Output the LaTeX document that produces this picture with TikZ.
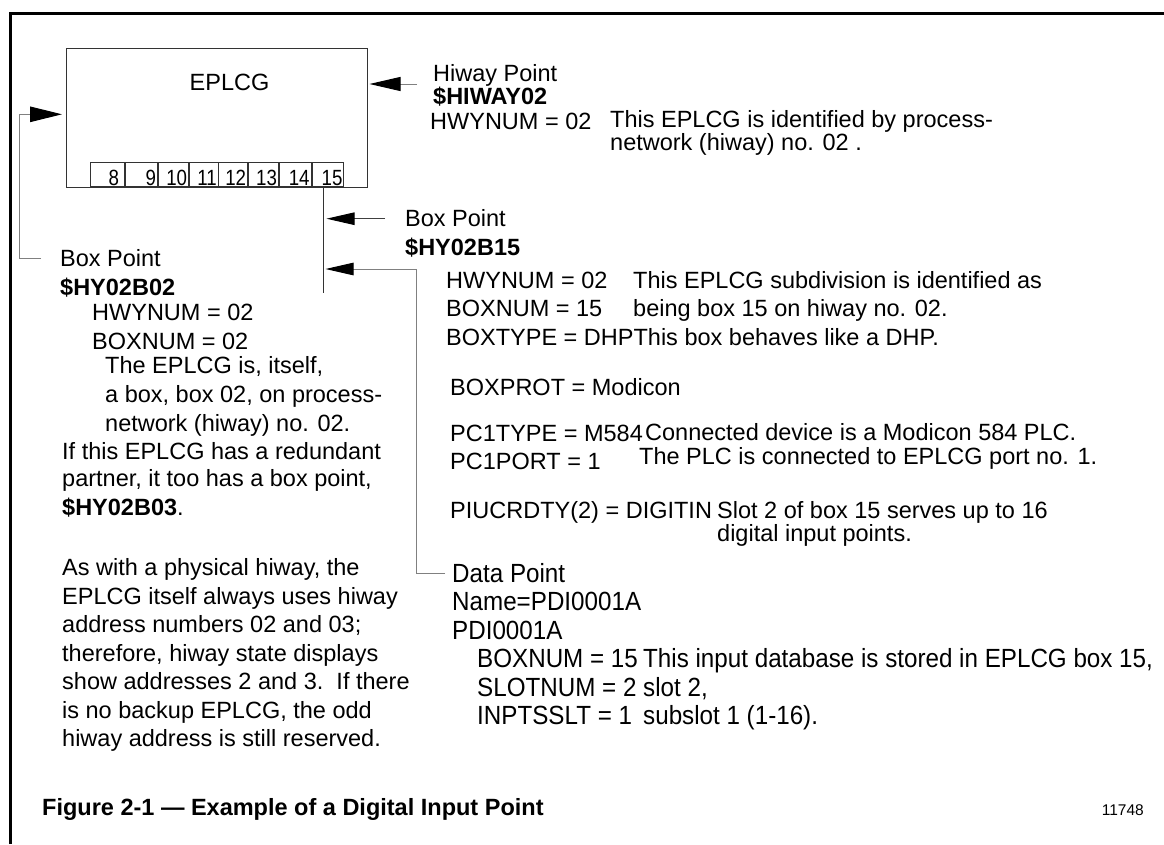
\documentclass[tikz,border=0pt]{standalone}
\usepackage{fontspec}
\setmainfont{Liberation Sans}
\newfontfamily\datafont[FakeStretch=0.92]{Liberation Sans}
\newfontfamily\slotfont[FakeStretch=0.85]{Liberation Sans}
\usetikzlibrary{arrows.meta}
\begin{document}
\begin{tikzpicture}[x=1pt,y=-1pt,
  txt/.style={anchor=base west, inner sep=0pt, font=\fontsize{23.5}{27}\selectfont},
  bld/.style={anchor=base west, inner sep=0pt, font=\fontsize{23.5}{27}\selectfont\bfseries},
  dat/.style={anchor=base west, inner sep=0pt, font=\fontsize{26.3}{29}\selectfont\datafont},
  num/.style={anchor=base east, inner sep=0pt, font=\fontsize{22}{24}\selectfont\slotfont},
  slotbox/.style={draw=black!80, line width=0.8pt, fill=white, minimum height=24pt, inner sep=0pt, anchor=south west},
  conn/.style={draw=black!50, line width=1pt},
  bigtip/.style={-{Triangle[length=32pt,width=15.5pt,color=black]}},
  midtip/.style={-{Triangle[length=28pt,width=12.5pt,color=black]}},
]
\useasboundingbox (0,0) rectangle (1164,844);
% frame
\draw[line width=3pt] (10.5,844) -- (10.5,13.5) -- (1164,13.5);

% EPLCG box
\node[draw=black!80, line width=0.8pt, minimum width=301pt, minimum height=139pt, inner sep=0pt] (eplcg) at (216.5,117.5) {};
\node[anchor=base, inner sep=0pt, font=\fontsize{23.5}{27}\selectfont] (eplcgl) at (229.5,90) {EPLCG};

% slots
\node[slotbox, minimum width=33.5pt] (s8)  at (90,187) {};
\node[slotbox, minimum width=32.3pt] (s9)  at (124.5,187) {};
\node[slotbox, minimum width=30.5pt] (s10) at (157.5,187) {};
\node[slotbox, minimum width=29.2pt] (s11) at (188.5,187) {};
\node[slotbox, minimum width=28.8pt] (s12) at (218.2,187) {};
\node[slotbox, minimum width=30.9pt] (s13) at (247.5,187) {};
\node[slotbox, minimum width=32.1pt] (s14) at (278.9,187) {};
\node[slotbox, minimum width=31.8pt] (s15) at (311.5,187) {};
\coordinate (nb) at (0,185);
\node[num] (n8)  at ([xshift=-5pt]s8.east |- nb) {8};
\node[num] (n9)  at ([xshift=-1.5pt]s9.east |- nb) {9};
\node[num] (n10) at ([xshift=-1.5pt]s10.east |- nb) {10};
\node[num] (n11) at ([xshift=-1.5pt]s11.east |- nb) {11};
\node[num] (n12) at ([xshift=-1.5pt]s12.east |- nb) {12};
\node[num] (n13) at ([xshift=-2pt]s13.east |- nb) {13};
\node[num] (n14) at ([xshift=-2pt]s14.east |- nb) {14};
\node[num] (n15) at ([xshift=-1.5pt]s15.east |- nb) {15};

% left box point connector
\coordinate (lb1) at (41,258.5);
\coordinate (lb2) at (19.5,258.5);
\coordinate (lb3) at (19.5,114.3);
\coordinate (lb4) at (62,114.3);
\draw[conn, bigtip] (lb1) -- (lb2) -- (lb3) -- (lb4);

% hiway connector
\coordinate (hw1) at (417,84);
\coordinate (hw2) at (369.5,84);
\draw[conn, -{Triangle[length=31pt,width=14pt,color=black]}] (hw1) -- (hw2);

% slot 15 vertical
\coordinate (v1) at (323.3,187);
\coordinate (v2) at (323.3,292.5);
\draw[black!80, line width=0.9pt] (v1) -- (v2);

% box point 15 arrow
\coordinate (b1) at (385,218.7);
\coordinate (b2) at (326.5,218.7);
\draw[draw=black!75, line width=1pt, midtip] (b1) -- (b2);

% data point connector
\coordinate (d1) at (445,573);
\coordinate (d2) at (416.5,573);
\coordinate (d3) at (416.5,269);
\coordinate (d4) at (325.5,269);
\draw[conn, midtip] (d1) -- (d2) -- (d3) -- (d4);

% Hiway point text
\node[txt] (hp1) at (433,81) {Hiway Point};
\node[bld] (hp2) at (433,104) {\$HIWAY02};
\node[txt] (hp3) at (430,129) {HWYNUM = 02};
\node[txt] (hp4) at (610,127) {This EPLCG is identified by process-};
\node[txt] (hp5) at (610,150) {network (hiway) no. 02 .};

% Box point 15 text
\node[txt] (bp1) at (405,226) {Box Point};
\node[bld] (bp2) at (405,255) {\$HY02B15};
\node[txt] (bp3) at (446,288) {HWYNUM = 02};
\node[txt] (bp4) at (633,288) {This EPLCG subdivision is identified as};
\node[txt] (bp5) at (446,316) {BOXNUM = 15};
\node[txt] (bp6) at (633,316) {being box 15 on hiway no. 02.};
\node[txt] (bp7) at (446,345) {BOXTYPE = DHPThis box behaves like a DHP.};
\node[txt] (bp8) at (450,395) {BOXPROT = Modicon};
\node[txt] (bp9) at (450,441) {PC1TYPE = M584};
\node[txt] (bp10) at (645,440) {Connected device is a Modicon 584 PLC.};
\node[txt] (bp11) at (450,469) {PC1PORT = 1};
\node[txt] (bp12) at (639,464) {The PLC is connected to EPLCG port no. 1.};
\node[txt] (bp13) at (450,518) {PIUCRDTY(2) = DIGITIN};
\node[txt] (bp14) at (717,518) {Slot 2 of box 15 serves up to 16};
\node[txt] (bp15) at (717,541) {digital input points.};

% Data point text
\node[dat] (dp1) at (452,582) {Data Point};
\node[dat] (dp2) at (452,610) {Name=PDI0001A};
\node[dat] (dp3) at (452,639) {PDI0001A};
\node[dat] (dp4) at (477,667) {BOXNUM = 15};
\node[dat] (dp5) at (643,667) {This input database is stored in EPLCG box 15,};
\node[dat] (dp6) at (477,696) {SLOTNUM = 2};
\node[dat] (dp7) at (643,696) {slot 2,};
\node[dat] (dp8) at (477,724) {INPTSSLT = 1};
\node[dat] (dp9) at (643,724) {subslot 1 (1-16).};

% Left box point text
\node[txt] (lp1) at (60,266) {Box Point};
\node[bld] (lp2) at (60,295) {\$HY02B02};
\node[txt] (lp3) at (92,320) {HWYNUM = 02};
\node[txt] (lp4) at (92,349) {BOXNUM = 02};
\node[txt] (lp5) at (105,373) {The EPLCG is, itself,};
\node[txt] (lp6) at (105,402) {a box, box 02, on process-};
\node[txt] (lp7) at (105,431) {network (hiway) no. 02.};
\node[txt] (lp8) at (62,459) {If this EPLCG has a redundant};
\node[txt] (lp9) at (62,486) {partner, it too has a box point,};
\node[txt] (lp10) at (62,515) {\textbf{\$HY02B03}.};

\node[txt] (a1) at (62,575) {As with a physical hiway, the};
\node[txt] (a2) at (62,604) {EPLCG itself always uses hiway};
\node[txt] (a3) at (62,632) {address numbers 02 and 03;};
\node[txt] (a4) at (62,661) {therefore, hiway state displays};
\node[txt] (a5) at (62,689) {show addresses 2 and 3.\ \ If there};
\node[txt] (a6) at (62,718) {is no backup EPLCG, the odd};
\node[txt] (a7) at (62,746) {hiway address is still reserved.};

% caption
\node[bld] (cap) at (42,815) {Figure 2-1 --- Example of a Digital Input Point};
\node[anchor=base east, inner sep=0pt, font=\fontsize{15.5}{18}\selectfont] (fid) at (1144,815) {11748};
\end{tikzpicture}
\end{document}
